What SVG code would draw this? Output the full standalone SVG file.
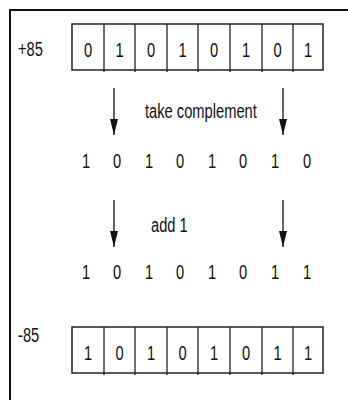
<svg xmlns="http://www.w3.org/2000/svg" width="348" height="400" viewBox="0 0 348 400">
<defs>
<style>
.t{font-family:"Liberation Sans",Arial,sans-serif;font-size:21px;fill:#111;text-anchor:middle}
.tl{font-family:"Liberation Sans",Arial,sans-serif;font-size:21px;fill:#111;text-anchor:start}
.box{fill:#fff;stroke:#222;stroke-width:1.5}
.div{stroke:#222;stroke-width:1.3}
.arr{stroke:#111;stroke-width:1.3;fill:none}
</style>
<marker id="ah" viewBox="0 0 16 8" refX="16" refY="4" markerWidth="16" markerHeight="8" markerUnits="userSpaceOnUse" orient="auto">
<path d="M0,0 L16,4 L0,8 Z" fill="#111"/>
</marker>
</defs>
<rect width="348" height="400" fill="#fff"/>
<path d="M10,400 L10,10 L348,10" fill="none" stroke="#111" stroke-width="2"/>

<g id="label-plus85">
<text class="tl" transform="translate(18,56) scale(0.7,1)">+85</text>
</g>
<g id="box-top">
<rect class="box" x="72" y="24" width="251" height="46"/>
<path class="div" d="M104,24V72 M135,24V72 M167,24V72 M198,24V72 M230,24V72 M262,24V72 M293,24V72"/>
<text class="t" transform="translate(88,57) scale(0.7,1)">0</text>
<text class="t" transform="translate(119.5,57) scale(0.7,1)">1</text>
<text class="t" transform="translate(151,57) scale(0.7,1)">0</text>
<text class="t" transform="translate(182.5,57) scale(0.7,1)">1</text>
<text class="t" transform="translate(214,57) scale(0.7,1)">0</text>
<text class="t" transform="translate(246,57) scale(0.7,1)">1</text>
<text class="t" transform="translate(277.5,57) scale(0.7,1)">0</text>
<text class="t" transform="translate(308,57) scale(0.7,1)">1</text>
</g>

<g id="connectors">
<line class="arr" x1="114" y1="88" x2="114" y2="135" marker-end="url(#ah)"/>
<line class="arr" x1="283" y1="88" x2="283" y2="135" marker-end="url(#ah)"/>
<line class="arr" x1="114" y1="200" x2="114" y2="247" marker-end="url(#ah)"/>
<line class="arr" x1="283" y1="200" x2="283" y2="247" marker-end="url(#ah)"/>
</g>

<g id="label-complement">
<text class="tl" transform="translate(145,118) scale(0.7,1)">take complement</text>
</g>

<g id="row-complement">
<text class="t" transform="translate(86,168) scale(0.7,1)">1</text>
<text class="t" transform="translate(117,168) scale(0.7,1)">0</text>
<text class="t" transform="translate(149,168) scale(0.7,1)">1</text>
<text class="t" transform="translate(180,168) scale(0.7,1)">0</text>
<text class="t" transform="translate(212,168) scale(0.7,1)">1</text>
<text class="t" transform="translate(243,168) scale(0.7,1)">0</text>
<text class="t" transform="translate(275,168) scale(0.7,1)">1</text>
<text class="t" transform="translate(307,168) scale(0.7,1)">0</text>
</g>

<g id="label-add1">
<text class="tl" transform="translate(151,232) scale(0.7,1)">add 1</text>
</g>

<g id="row-result">
<text class="t" transform="translate(86,279) scale(0.7,1)">1</text>
<text class="t" transform="translate(117,279) scale(0.7,1)">0</text>
<text class="t" transform="translate(149,279) scale(0.7,1)">1</text>
<text class="t" transform="translate(180,279) scale(0.7,1)">0</text>
<text class="t" transform="translate(212,279) scale(0.7,1)">1</text>
<text class="t" transform="translate(243,279) scale(0.7,1)">0</text>
<text class="t" transform="translate(275,279) scale(0.7,1)">1</text>
<text class="t" transform="translate(307,279) scale(0.7,1)">1</text>
</g>

<g id="label-minus85">
<text class="tl" transform="translate(18,342) scale(0.7,1)">-85</text>
</g>
<g id="box-bottom">
<rect class="box" x="72" y="327" width="251" height="46"/>
<path class="div" d="M104,327V375 M135,327V375 M167,327V375 M198,327V375 M230,327V375 M262,327V375 M293,327V375"/>
<text class="t" transform="translate(88,360) scale(0.7,1)">1</text>
<text class="t" transform="translate(119.5,360) scale(0.7,1)">0</text>
<text class="t" transform="translate(151,360) scale(0.7,1)">1</text>
<text class="t" transform="translate(182.5,360) scale(0.7,1)">0</text>
<text class="t" transform="translate(214,360) scale(0.7,1)">1</text>
<text class="t" transform="translate(246,360) scale(0.7,1)">0</text>
<text class="t" transform="translate(277.5,360) scale(0.7,1)">1</text>
<text class="t" transform="translate(308,360) scale(0.7,1)">1</text>
</g>
</svg>
